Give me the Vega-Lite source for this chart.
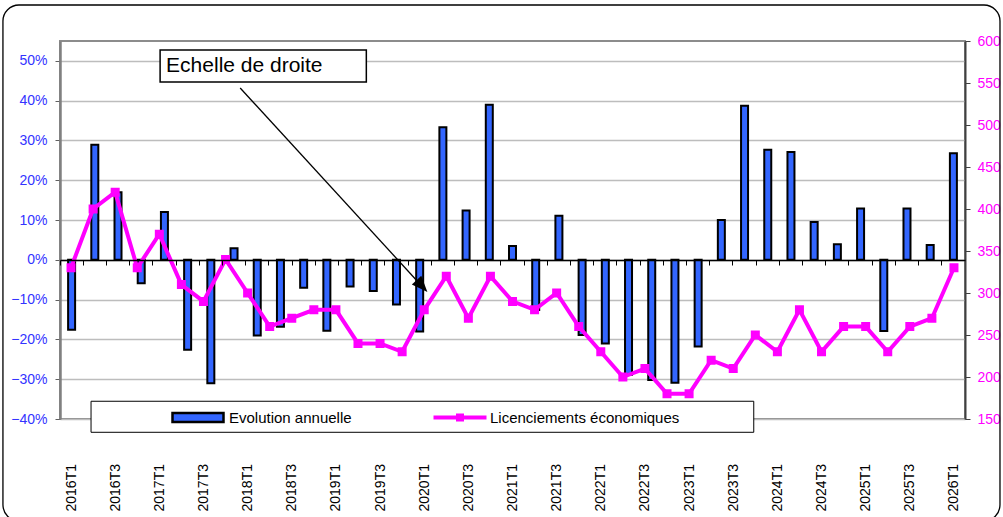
{
  "$schema": "https://vega.github.io/schema/vega-lite/v6.json",
  "width": 905,
  "height": 378,
  "autosize": {"type": "none"},
  "padding": {"left": 60, "top": 41, "right": 38, "bottom": 98},
  "background": "white",
  "config": {
    "font": "Liberation Sans",
    "view": {"stroke": "#8c8c8c", "strokeWidth": 2},
    "legend": {
      "orient": "none", "legendY": 369,
      "direction": "horizontal", "title": null, "padding": 0,
      "symbolSize": 100, "labelOffset": 44, "labelLimit": 400,
      "labelFontSize": 15, "labelColor": "black", "labelFont": "Liberation Sans",
      "symbolOpacity": 1
    }
  },
  "data": {
    "values": [
      {"q": "2016T1", "evo": -0.176, "lic": 330},
      {"q": "2016T2", "evo": 0.289, "lic": 400},
      {"q": "2016T3", "evo": 0.17, "lic": 420},
      {"q": "2016T4", "evo": -0.059, "lic": 330},
      {"q": "2017T1", "evo": 0.12, "lic": 370},
      {"q": "2017T2", "evo": -0.226, "lic": 310},
      {"q": "2017T3", "evo": -0.31, "lic": 290},
      {"q": "2017T4", "evo": 0.029, "lic": 340},
      {"q": "2018T1", "evo": -0.19, "lic": 300},
      {"q": "2018T2", "evo": -0.168, "lic": 260},
      {"q": "2018T3", "evo": -0.07, "lic": 270},
      {"q": "2018T4", "evo": -0.178, "lic": 280},
      {"q": "2019T1", "evo": -0.067, "lic": 280},
      {"q": "2019T2", "evo": -0.078, "lic": 240},
      {"q": "2019T3", "evo": -0.112, "lic": 240},
      {"q": "2019T4", "evo": -0.18, "lic": 230},
      {"q": "2020T1", "evo": null, "lic": 280},
      {"q": "2020T2", "evo": 0.333, "lic": 320},
      {"q": "2020T3", "evo": 0.124, "lic": 270},
      {"q": "2020T4", "evo": 0.39, "lic": 320},
      {"q": "2021T1", "evo": 0.035, "lic": 290},
      {"q": "2021T2", "evo": -0.126, "lic": 280},
      {"q": "2021T3", "evo": 0.111, "lic": 300},
      {"q": "2021T4", "evo": -0.189, "lic": 260},
      {"q": "2022T1", "evo": -0.21, "lic": 230},
      {"q": "2022T2", "evo": -0.289, "lic": 200},
      {"q": "2022T3", "evo": -0.302, "lic": 210},
      {"q": "2022T4", "evo": -0.309, "lic": 180},
      {"q": "2023T1", "evo": -0.218, "lic": 180},
      {"q": "2023T2", "evo": 0.1, "lic": 220},
      {"q": "2023T3", "evo": null, "lic": 210},
      {"q": "2023T4", "evo": 0.387, "lic": 250},
      {"q": "2024T1", "evo": 0.277, "lic": 230},
      {"q": "2024T2", "evo": 0.271, "lic": 280},
      {"q": "2024T3", "evo": 0.095, "lic": 230},
      {"q": "2024T4", "evo": 0.039, "lic": 260},
      {"q": "2025T1", "evo": 0.129, "lic": 260},
      {"q": "2025T2", "evo": -0.179, "lic": 230},
      {"q": "2025T3", "evo": 0.129, "lic": 260},
      {"q": "2025T4", "evo": 0.037, "lic": 270},
      {"q": "2026T1", "evo": 0.268, "lic": 330}
    ]
  },
  "layer": [
    {
      "mark": {"type": "bar", "size": 7, "stroke": "black", "strokeWidth": 2},
      "encoding": {
        "x": {
          "field": "q", "type": "nominal",
          "scale": {"type": "band", "paddingInner": 0, "paddingOuter": 0},
          "axis": {
            "orient": "bottom", "offset": -159, "title": null, "labels": false,
            "domainColor": "black", "domainWidth": 1.5,
            "tickColor": "black", "tickSize": 5, "tickWidth": 1, "bandPosition": 0,
            "grid": false, "zindex": 1
          }
        },
        "y": {
          "field": "evo", "type": "quantitative",
          "scale": {"domain": [-0.4, 0.55], "nice": false},
          "axis": {
            "orient": "left", "title": null,
            "values": [-0.4, -0.3, -0.2, -0.1, 0, 0.1, 0.2, 0.3, 0.4, 0.5],
            "format": ".0%", "labelColor": "#3333ff", "labelFontSize": 14, "labelPadding": 8,
            "domainColor": "#808080", "domainWidth": 2.5,
            "tickColor": "#606060", "tickSize": 5, "tickWidth": 1,
            "grid": true, "gridColor": "#bdbdbd", "gridWidth": 1.5
          }
        },
        "y2": {"datum": 0},
        "fill": {
          "datum": "Evolution annuelle",
          "scale": {"domain": ["Evolution annuelle"], "range": ["#3366ff"]},
          "legend": {
            "legendX": 110,
            "symbolType": "M-1,-0.9H9.2V0.9H-1Z",
            "symbolStrokeColor": "black",
            "symbolStrokeWidth": 2.5
          }
        }
      }
    },
    {
      "mark": {"type": "line", "strokeWidth": 4, "point": {"shape": "square", "size": 49, "filled": true, "fill": "#ff00ff", "color": "#ff00ff"}},
      "encoding": {
        "x": {
          "field": "q", "type": "nominal",
          "scale": {"type": "point", "padding": 0.5},
          "axis": {
            "orient": "bottom", "title": null,
            "values": ["2016T1", "2016T3", "2017T1", "2017T3", "2018T1", "2018T3", "2019T1", "2019T3", "2020T1", "2020T3", "2021T1", "2021T3", "2022T1", "2022T3", "2023T1", "2023T3", "2024T1", "2024T3", "2025T1", "2025T3", "2026T1"],
            "domain": false, "ticks": false, "tickSize": 0, "grid": false,
            "labelAngle": 270, "labelAlign": "left", "labelBaseline": "middle",
            "labelPadding": 92, "labelFontSize": 14, "labelColor": "black"
          }
        },
        "y": {
          "field": "lic", "type": "quantitative",
          "scale": {"domain": [150, 600], "nice": false, "zero": false},
          "axis": {
            "orient": "right", "title": null,
            "values": [150, 200, 250, 300, 350, 400, 450, 500, 550, 600],
            "labelColor": "#ff00ff", "labelFontSize": 14, "labelPadding": 7,
            "domainColor": "#404040", "domainWidth": 2,
            "tickColor": "#404040", "tickSize": 5, "grid": false
          }
        },
        "stroke": {
          "datum": "Licenciements économiques",
          "scale": {"domain": ["Licenciements économiques"], "range": ["#ff00ff"]},
          "legend": {
            "legendX": 371,
            "symbolType": "M-1,0H9.6M3.9,-0.4H4.7V0.4H3.9Z",
            "symbolFillColor": "#ff00ff",
            "symbolStrokeWidth": 4
          }
        }
      }
    },
    {
      "data": {"values": [{}]},
      "encoding": {
        "x": {"datum": 0, "type": "quantitative", "scale": {"domain": [0, 41], "nice": false, "zero": false}, "axis": null},
        "y": {"datum": 0, "type": "quantitative", "scale": {"domain": [-0.4, 0.55], "nice": false, "zero": false}, "axis": null}
      },
      "layer": [
        {
          "mark": {"type": "rect", "filled": false, "stroke": "black", "strokeWidth": 1.3, "cornerRadius": 16},
          "encoding": {
            "x": {"datum": -2.585}, "x2": {"datum": 42.585},
            "y": {"datum": 0.6405}, "y2": {"datum": -0.656}
          }
        },
        {
          "mark": {"type": "rect", "fill": "white", "stroke": "black", "strokeWidth": 1},
          "encoding": {
            "x": {"datum": 1.406}, "x2": {"datum": 31.43},
            "y": {"datum": -0.3554}, "y2": {"datum": -0.4334}
          }
        },
        {
          "mark": {"type": "rect", "fill": "white", "stroke": "black", "strokeWidth": 1.5},
          "encoding": {
            "x": {"datum": 4.535}, "x2": {"datum": 13.878},
            "y": {"datum": 0.5274}, "y2": {"datum": 0.447}
          }
        },
        {
          "mark": {"type": "text", "align": "left", "baseline": "middle", "fontSize": 21, "font": "Liberation Sans", "color": "black", "text": "Echelle de droite"},
          "encoding": {
            "x": {"datum": 4.807}, "y": {"datum": 0.4872}
          }
        },
        {
          "mark": {"type": "rule", "color": "black", "strokeWidth": 1.3},
          "encoding": {
            "x": {"datum": 8.163}, "y": {"datum": 0.4319},
            "x2": {"datum": 16.15}, "y2": {"datum": -0.0512}
          }
        },
        {
          "mark": {"type": "point", "shape": "M0,0L-2,-0.8L-2,0.8Z", "filled": true, "color": "black", "opacity": 1, "size": 256, "angle": 47.5},
          "encoding": {
            "x": {"datum": 16.644}, "y": {"datum": -0.0808}
          }
        }
      ]
    }
  ],
  "resolve": {"scale": {"x": "independent", "y": "independent"}}
}
